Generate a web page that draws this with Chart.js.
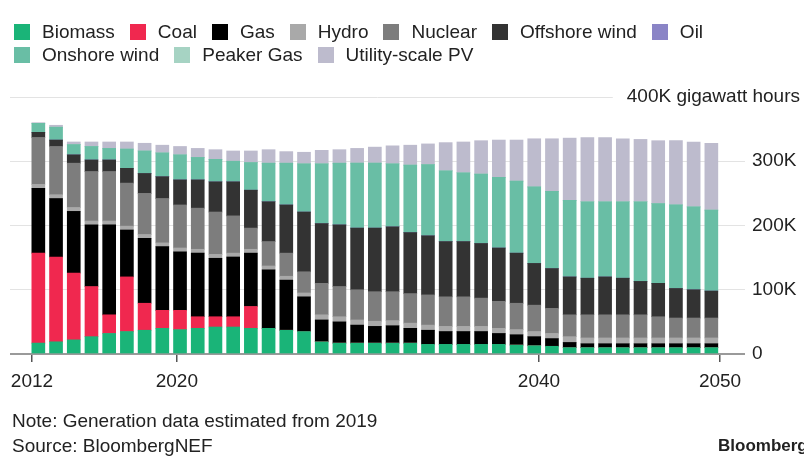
<!DOCTYPE html>
<html>
<head>
<meta charset="utf-8">
<script src="https://cdn.jsdelivr.net/npm/chart.js@4.4.1/dist/chart.umd.min.js"></script>
<style>
  body { margin: 0; background: #fff; font-family: "Liberation Sans", Arial, sans-serif; color: #222; }
  #wrap { position: relative; width: 804px; height: 456px; overflow: hidden; }
  #chart { position: absolute; left: 0; top: 0; }
  #legend { position: absolute; left: 14px; top: 20px; width: 730px; display: flex; flex-wrap: wrap; font-size: 19px; line-height: 23px; }
  .item { display: flex; align-items: center; margin-right: 15px; }
  .box { width: 16px; height: 16px; margin-right: 12px; }
  .note { position: absolute; left: 12px; font-size: 19px; line-height: 23px; }
  #brand { position: absolute; left: 718px; top: 434px; font-weight: bold; font-size: 17px; line-height: 23px; }
</style>
</head>
<body>
<div id="wrap">
  <canvas id="chart" width="804" height="456"></canvas>
  <div id="legend"></div>
  <div class="note" style="top:409px">Note: Generation data estimated from 2019</div>
  <div class="note" style="top:434px">Source: BloombergNEF</div>
  <div id="brand">Bloomberg</div>
</div>
<script>
// Generation by technology, thousand gigawatt hours (K GWh)
const years = [2012, 2013, 2014, 2015, 2016, 2017, 2018, 2019, 2020, 2021,
               2022, 2023, 2024, 2025, 2026, 2027, 2028, 2029, 2030, 2031,
               2032, 2033, 2034, 2035, 2036, 2037, 2038, 2039, 2040, 2041,
               2042, 2043, 2044, 2045, 2046, 2047, 2048, 2049, 2050];

const biomass  = [17, 19, 22, 27, 32, 35, 37, 40, 38, 40, 42, 42, 40, 40, 37, 35, 19, 17, 17, 17,
                  17, 17, 15, 15, 15, 15, 15, 14, 13, 12, 10, 10, 10, 10, 10, 10, 10, 10, 10];
const coal     = [140, 132, 104, 78, 29, 85, 42, 28, 30, 18, 16, 16, 34, 0, 0, 0, 0, 0, 0, 0,
                  0, 0, 0, 0, 0, 0, 0, 0, 0, 0, 0, 0, 0, 0, 0, 0, 0, 0, 0];
const gas      = [101, 91, 96, 96, 140, 73, 101, 99, 91, 99, 91, 93, 83, 91, 78, 54, 34, 33, 28, 26,
                  27, 23, 22, 20, 20, 20, 17, 16, 14, 12, 8, 6, 6, 6, 6, 6, 6, 6, 6];
const hydro    = [6, 6, 6, 6, 6, 6, 6, 6, 6, 6, 6, 6, 6, 6, 6, 6, 8, 8, 8, 8,
                  8, 8, 8, 8, 8, 8, 8, 8, 8, 8, 9, 9, 9, 9, 9, 9, 9, 9, 9];
const nuclear  = [73, 75, 69, 77, 77, 67, 64, 69, 67, 64, 66, 58, 33, 38, 36, 33, 49, 47, 47, 46,
                  45, 46, 47, 46, 46, 44, 42, 41, 41, 39, 34, 36, 36, 36, 36, 33, 31, 31, 31];
const offshore = [8, 10, 13, 18, 18, 23, 31, 34, 39, 44, 47, 53, 59, 62, 75, 93, 93, 96, 96, 99,
                  101, 95, 92, 86, 86, 85, 83, 78, 65, 62, 59, 57, 59, 57, 52, 52, 46, 44, 42];
const oil      = [0, 0, 0, 0, 0, 0, 0, 0, 0, 0, 0, 0, 0, 0, 0, 0, 0, 0, 0, 0,
                  0, 0, 0, 0, 0, 0, 0, 0, 0, 0, 0, 0, 0, 0, 0, 0, 0, 0, 0];
const onshore  = [14, 20, 16, 21, 18, 30, 35, 37, 39, 35, 35, 32, 43, 60, 65, 75, 93, 96, 101, 101,
                  98, 105, 111, 110, 107, 108, 110, 112, 119, 120, 119, 119, 117, 119, 124, 124, 130, 129, 126];
const peaker   = [0, 0, 0, 0, 0, 0, 0, 0, 0, 0, 0, 0, 0, 0, 0, 0, 0, 0, 0, 0,
                  0, 0, 0, 0, 0, 0, 0, 0, 0, 0, 0, 0, 0, 0, 0, 0, 0, 0, 0];
const utilityPV = [1, 3, 4, 7, 10, 11, 12, 12, 13, 14, 15, 16, 18, 21, 18, 18, 21, 21, 23, 25,
                   28, 31, 32, 44, 48, 52, 58, 64, 75, 82, 97, 100, 100, 98, 97, 98, 100, 101, 104];

const yTicks = [0, 100, 200, 300, 400];
const yearTicks = [2012, 2020, 2040, 2050];

const series = [
  { label: 'Biomass', data: biomass, color: '#1ab478' },
  { label: 'Coal', data: coal, color: '#f0284f' },
  { label: 'Gas', data: gas, color: '#000000' },
  { label: 'Hydro', data: hydro, color: '#a9a9a9' },
  { label: 'Nuclear', data: nuclear, color: '#7d7d7d' },
  { label: 'Offshore wind', data: offshore, color: '#333333' },
  { label: 'Oil', data: oil, color: '#8a84c6' },
  { label: 'Onshore wind', data: onshore, color: '#69bea5' },
  { label: 'Peaker Gas', data: peaker, color: '#a6d3c3' },
  { label: 'Utility-scale PV', data: utilityPV, color: '#bdbbcd' }
];

// html legend, two rows like the original
const legend = document.getElementById('legend');
series.forEach(s => {
  const item = document.createElement('div');
  item.className = 'item';
  item.innerHTML = '<span class="box" style="background:' + s.color + '"></span>' + s.label;
  legend.appendChild(item);
});

const FONT = { family: '"Liberation Sans", Arial, sans-serif', size: 19 };

// the top gridline carries the unit label at its right end
const unitLabel = {
  id: 'unitLabel',
  afterDraw(chart) {
    const ctx = chart.ctx;
    const y = chart.scales.y.getPixelForValue(400);
    const text = '400K gigawatt hours';
    ctx.save();
    ctx.font = '19px "Liberation Sans", Arial, sans-serif';
    const w = ctx.measureText(text).width;
    const right = chart.width - 4;
    ctx.fillStyle = '#fff';
    ctx.fillRect(right - w - 14, y - 8, w + 18, 16);
    ctx.fillStyle = '#222';
    ctx.textAlign = 'right';
    ctx.textBaseline = 'middle';
    ctx.fillText(text, right, y);
    ctx.restore();
  }
};

new Chart(document.getElementById('chart').getContext('2d'), {
  type: 'bar',
  data: {
    labels: years,
    datasets: series.map(s => ({
      label: s.label,
      data: s.data,
      backgroundColor: s.color,
      borderWidth: 0,
      stack: 'gen',
      xAxisID: 'x',
      barThickness: 13
    }))
  },
  options: {
    responsive: false,
    animation: false,
    devicePixelRatio: 1,
    layout: { padding: { left: 10, right: 0, top: 97, bottom: 52 } },
    plugins: { legend: { display: false }, tooltip: { enabled: false } },
    scales: {
      x: {
        type: 'linear',
        stacked: true,
        display: false,
        offset: false,
        grid: { offset: false },
        min: 2010.4,
        max: 2051.9
      },
      years: {
        type: 'linear',
        position: 'bottom',
        offset: false,
        min: 2010.785,
        max: 2051.38,
        afterBuildTicks: s => { s.ticks = yearTicks.map(v => ({ value: v })); },
        afterFit: s => { s.height = 50; },
        border: { display: false },
        grid: { offset: false, drawOnChartArea: false, drawTicks: true, tickLength: 8, color: '#555', lineWidth: 1.5 },
        ticks: { font: FONT, color: '#222', padding: 8, autoSkip: false, maxRotation: 0, callback: v => String(v) }
      },
      y: {
        position: 'right',
        stacked: true,
        min: 0,
        max: 400,
        afterBuildTicks: s => { s.ticks = yTicks.map(v => ({ value: v })); },
        afterFit: s => { s.width = 59; },
        border: { display: false },
        grid: {
          drawTicks: false,
          color: c => c.tick && c.tick.value === 0 ? '#9a9a9a' : '#e3e3e3',
          lineWidth: c => c.tick && c.tick.value === 0 ? 2 : 1
        },
        ticks: {
          font: FONT, color: '#222', padding: 7,
          callback: v => v === 0 ? '0' : (v === 400 ? '' : v + 'K')
        }
      }
    }
  },
  plugins: [unitLabel]
});
</script>
</body>
</html>
